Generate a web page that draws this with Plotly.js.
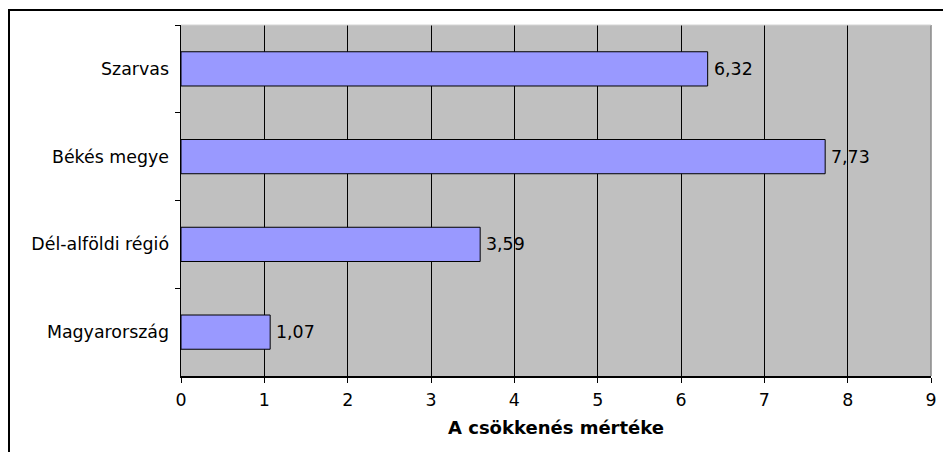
<!DOCTYPE html>
<html>
<head>
<meta charset="utf-8">
<script src="https://cdn.plot.ly/plotly-3.0.1.min.js"></script>
<style>
  html, body { margin: 0; padding: 0; background: #fff; }
  #frame { position: absolute; left: 8px; top: 9px; width: 1000px; height: 600px;
           border-left: 2px solid #000; border-top: 2px solid #000; }
  #chart { position: absolute; left: 0; top: 0; width: 943px; height: 452px; }
</style>
</head>
<body>
<div id="frame"></div>
<div id="chart"></div>
<script>
const categories = ["Szarvas", "Békés megye", "Dél-alföldi régió", "Magyarország"];
const values = [6.32, 7.73, 3.59, 1.07];
const xTickValues = [0, 1, 2, 3, 4, 5, 6, 7, 8, 9];
const xTitle = "A csökkenés mértéke";

const FONT = "DejaVu Sans, Verdana, sans-serif";
const FS = 17.4;

const trace = {
  type: "bar",
  orientation: "h",
  x: values,
  y: categories,
  marker: { color: "#9999FF", line: { color: "#000000", width: 1 } },
  hoverinfo: "none",
  cliponaxis: false
};

const annotations = values.map((v, i) => ({
  x: v, y: categories[i], xref: "x", yref: "y",
  text: v.toFixed(2).replace(".", ","),
  showarrow: false, xanchor: "left", yanchor: "middle", xshift: 4,
  font: { family: FONT, size: FS, color: "#000" }
}));

const layout = {
  width: 943, height: 452,
  margin: { l: 181, r: 12, t: 25, b: 76 },
  paper_bgcolor: "rgba(0,0,0,0)",
  plot_bgcolor: "#C0C0C0",
  showlegend: false,
  bargap: 0.61,
  font: { family: FONT, size: FS, color: "#000" },
  xaxis: {
    range: [0, 9],
    tickvals: xTickValues,
    ticks: "outside", ticklen: 5, tickcolor: "#000", tickwidth: 1,
    showgrid: true, gridcolor: "#000", gridwidth: 1,
    zeroline: false,
    showline: true, linecolor: "#000", linewidth: 1.5,
    tickfont: { family: FONT, size: FS, color: "#000" },
    ticklabelstandoff: 3,
    title: { text: xTitle, font: { family: FONT, size: 18, color: "#000", weight: "bold" }, standoff: 12 },
    fixedrange: true
  },
  yaxis: {
    type: "category",
    autorange: "reversed",
    ticks: "outside", ticklen: 5, tickcolor: "#000", tickwidth: 1,
    tickson: "boundaries",
    showgrid: false, zeroline: false,
    showline: true, linecolor: "#000", linewidth: 1.5,
    tickfont: { family: FONT, size: FS, color: "#000" },
    ticklabelstandoff: 7,
    fixedrange: true
  },
  annotations: annotations,
  shapes: [
    { type: "line", xref: "paper", yref: "paper", x0: 1, x1: 1, y0: 0, y1: 1,
      line: { color: "#8a8a8a", width: 1.5 }, layer: "above" },
    { type: "line", xref: "paper", yref: "paper", x0: 0, x1: 1, y0: 1, y1: 1,
      line: { color: "#d4d4d4", width: 1 }, layer: "above" }
  ]
};

Plotly.newPlot("chart", [trace], layout, { staticPlot: true, displayModeBar: false });
</script>
</body>
</html>
